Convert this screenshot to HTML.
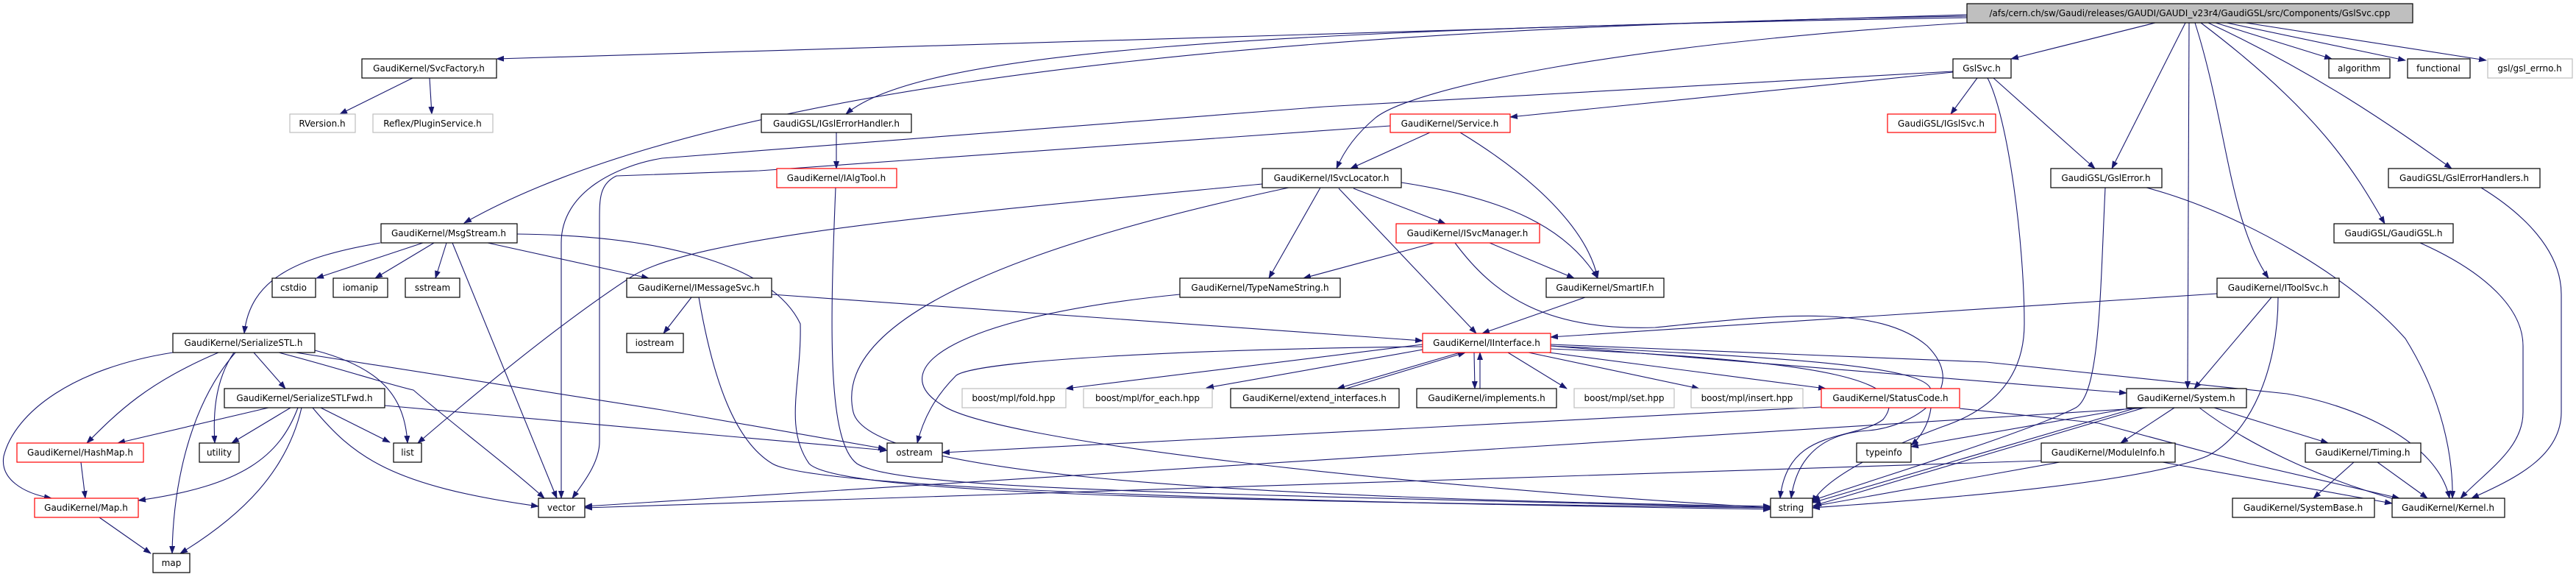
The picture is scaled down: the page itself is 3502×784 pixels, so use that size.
<!DOCTYPE html>
<html><head><meta charset="utf-8"><style>
html,body{margin:0;padding:0;background:#fff;}
svg{display:block;}
text{font-family:"DejaVu Sans","Liberation Sans",sans-serif;font-size:12px;fill:#000;}
.e{fill:none;stroke:#191970;stroke-width:1.1;}
.b{fill:#fff;stroke:#000;stroke-width:1.2;}
.r{fill:#fff;stroke:#ff0000;stroke-width:1.2;}
.g{fill:#fff;stroke:#bfbfbf;stroke-width:1.2;}
</style></head><body>
<svg width="3502" height="784" viewBox="0 0 3502 784" xmlns="http://www.w3.org/2000/svg">
<defs><marker id="a" markerWidth="11" markerHeight="8" refX="10" refY="4" orient="auto" markerUnits="userSpaceOnUse"><path d="M0,0 L11,4 L0,8 z" fill="#191970"/></marker></defs>
<g class="e" marker-end="url(#a)">
<!-- root edges -->
<path d="M2674,20 L675,80"/>
<path d="M2674,22 C1500,40 900,150 631,303"/>
<path d="M2674,24 C1700,40 1250,70 1150,155"/>
<path d="M2674,31 C2200,60 1920,120 1870,160 C1840,185 1825,210 1817,229"/>
<path d="M2930,31 L2734,80"/>
<path d="M2971,31 L2871,229"/>
<path d="M2976,31 L2974,528"/>
<path d="M2984,31 C3027,165 3030,300 3084,378"/>
<path d="M2992,31 C3150,150 3200,230 3242,304"/>
<path d="M3002,31 C3150,100 3250,170 3333,229"/>
<path d="M3012,31 L3170,80"/>
<path d="M3027,31 L3270,82"/>
<path d="M3053,31 L3380,82"/>
<!-- SvcFactory -->
<path d="M561,106 L462,155"/>
<path d="M584,106 L587,155"/>
<!-- GslSvc -->
<path d="M2655,98 L2053,159"/>
<path d="M2688,106 L2652,155"/>
<path d="M2710,106 L2848,229"/>
<path d="M2655,97 L1800,145 L900,215 C840,225 763,260 763,330 L763,677"/>
<path d="M2702,106 C2730,160 2752,330 2752,440 C2752,520 2700,560 2640,580 C2560,610 2480,650 2464,683"/>
<!-- Service -->
<path d="M1944,180 L1836,229"/>
<path d="M1985,180 C2100,250 2160,320 2172,378"/>
<path d="M1890,171 L1032,232 L838,239 C815,250 815,270 815,300 L815,600 C815,630 790,660 778,677"/>
<!-- IGslErrorHandler / IAlgTool -->
<path d="M1137,180 L1137,229"/>
<path d="M1136,255 C1128,450 1125,600 1165,630 C1220,665 1600,670 2407,690"/>
<!-- ISvcLocator -->
<path d="M1716,250 C1300,290 950,320 860,375 C760,440 640,540 568,602"/>
<path d="M1752,255 C1400,330 1130,430 1160,560 C1180,640 1600,675 2407,688"/>
<path d="M1795,255 L1725,378"/>
<path d="M1820,256 L2007,453"/>
<path d="M1840,256 L1965,304"/>
<path d="M1905,248 C2050,270 2130,310 2172,378"/>
<!-- ISvcManager -->
<path d="M1950,330 L1772,378"/>
<path d="M2025,330 L2140,378"/>
<path d="M1978,330 C2030,400 2100,450 2250,445 C2400,430 2550,410 2620,470 C2680,530 2600,580 2540,585 C2460,590 2440,640 2435,677"/>
<!-- TypeNameString / SmartIF -->
<path d="M1604,400 C1300,430 1200,500 1280,550 C1350,600 1900,660 2407,690"/>
<path d="M2155,404 L2015,453"/>
<!-- MsgStream -->
<path d="M575,330 L430,378"/>
<path d="M590,330 L510,378"/>
<path d="M607,330 L592,378"/>
<path d="M615,330 L757,677"/>
<path d="M517,330 C400,350 340,380 332,453"/>
<path d="M663,330 L882,378"/>
<path d="M703,318 C900,320 1050,360 1088,440 C1090,520 1065,580 1100,630 C1140,670 1600,680 2407,690"/>
<!-- IMessageSvc -->
<path d="M940,404 L902,453"/>
<path d="M950,404 C970,520 1000,600 1050,630 C1100,660 1600,680 2407,692"/>
<path d="M1049,400 L1934,463"/>
<!-- SerializeSTL -->
<path d="M235,479 C100,500 20,560 5,620 C0,650 30,670 70,677"/>
<path d="M297,479 C200,520 160,560 118,602"/>
<path d="M320,479 C250,560 235,680 234,752"/>
<path d="M318,479 C290,520 290,570 292,602"/>
<path d="M345,479 L388,528"/>
<path d="M428,476 C520,500 550,540 554,602"/>
<path d="M379,479 C460,500 520,520 562,530 C620,580 700,640 740,677"/>
<path d="M402,479 L900,557 L1204,610"/>
<!-- SerializeSTLFwd -->
<path d="M365,554 L160,602"/>
<path d="M395,554 L315,602"/>
<path d="M405,554 C380,620 330,660 188,680"/>
<path d="M410,554 C390,640 330,700 245,752"/>
<path d="M436,554 L530,601"/>
<path d="M425,554 C480,620 530,660 732,688"/>
<path d="M523,551 L1206,612"/>
<path d="M110,628 L116,677"/>
<path d="M135,703 L205,752"/>
<!-- IInterface -->
<path d="M1934,468 L1449,528"/>
<path d="M1940,474 L1640,527"/>
<path d="M1985,479 L1818,528"/>
<path d="M1830,528 L1992,479"/>
<path d="M2004,479 L2005,528"/>
<path d="M2012,528 L2012,479"/>
<path d="M2050,479 L2130,528"/>
<path d="M2078,479 L2310,528"/>
<path d="M2090,477 L2482,528"/>
<path d="M1934,471 C1600,475 1330,490 1300,510 C1270,540 1255,570 1247,602"/>
<path d="M2108,470 L2891,534"/>
<path d="M2108,468 L2700,492 L3109,535 C3200,550 3314,600 3330,677"/>
<path d="M2108,470 C2400,485 2620,495 2625,530 C2630,570 2610,595 2598,605"/>
<path d="M2108,474 C2500,490 2600,520 2560,570 C2520,600 2430,580 2420,677"/>
<!-- StatusCode -->
<path d="M2476,553 L1281,615"/>
<path d="M2664,555 L2853,575 L3058,630 L3262,677"/>
<!-- System -->
<path d="M2900,554 L2598,607"/>
<path d="M2905,554 L2464,683"/>
<path d="M2915,554 L2466,687"/>
<path d="M2920,554 L795,688"/>
<path d="M2956,554 L2883,602"/>
<path d="M3010,554 L3165,602"/>
<path d="M2990,554 C3050,600 3150,650 3262,680"/>
<!-- ModuleInfo -->
<path d="M2775,626 L795,690"/>
<path d="M2800,628 L2464,688"/>
<path d="M2940,628 L3252,684"/>
<!-- Timing -->
<path d="M3200,628 L3145,677"/>
<path d="M3232,628 L3300,677"/>
<!-- IToolSvc -->
<path d="M3014,399 L2108,458"/>
<path d="M3088,404 L2983,528"/>
<path d="M3097,404 C3097,500 3060,590 3000,620 C2900,660 2600,680 2464,690"/>
<!-- GslError -->
<path d="M2862,255 C2855,400 2855,540 2820,555 C2750,590 2550,650 2464,680"/>
<path d="M2918,255 C3050,290 3200,380 3270,460 C3320,540 3335,620 3334,677"/>
<path d="M3290,330 C3380,370 3430,420 3430,470 L3430,560 C3430,610 3380,640 3345,677"/>
<path d="M3373,255 C3430,290 3482,340 3482,400 L3482,560 C3482,620 3420,650 3360,677"/>
</g>
<g>
<rect x="2674" y="5" width="606" height="26" fill="#bfbfbf" stroke="#000" stroke-width="1.2"/><text x="2977" y="22" text-anchor="middle">/afs/cern.ch/sw/Gaudi/releases/GAUDI/GAUDI_v23r4/GaudiGSL/src/Components/GslSvc.cpp</text>
<rect class="b" x="492" y="80" width="183" height="26"/><text x="583" y="97" text-anchor="middle">GaudiKernel/SvcFactory.h</text>
<rect class="g" x="394" y="155" width="89" height="25"/><text x="438" y="172" text-anchor="middle">RVersion.h</text>
<rect class="g" x="507" y="155" width="163" height="25"/><text x="588" y="172" text-anchor="middle">Reflex/PluginService.h</text>
<rect class="b" x="518" y="304" width="185" height="26"/><text x="610" y="321" text-anchor="middle">GaudiKernel/MsgStream.h</text>
<rect class="b" x="370" y="378" width="59" height="26"/><text x="399" y="395" text-anchor="middle">cstdio</text>
<rect class="b" x="453" y="378" width="74" height="26"/><text x="490" y="395" text-anchor="middle">iomanip</text>
<rect class="b" x="551" y="378" width="74" height="26"/><text x="588" y="395" text-anchor="middle">sstream</text>
<rect class="b" x="852" y="378" width="197" height="26"/><text x="950" y="395" text-anchor="middle">GaudiKernel/IMessageSvc.h</text>
<rect class="b" x="852" y="453" width="77" height="26"/><text x="890" y="470" text-anchor="middle">iostream</text>
<rect class="b" x="235" y="453" width="193" height="26"/><text x="331" y="470" text-anchor="middle">GaudiKernel/SerializeSTL.h</text>
<rect class="b" x="305" y="528" width="218" height="26"/><text x="414" y="545" text-anchor="middle">GaudiKernel/SerializeSTLFwd.h</text>
<rect class="r" x="23" y="602" width="172" height="26"/><text x="109" y="619" text-anchor="middle">GaudiKernel/HashMap.h</text>
<rect class="b" x="271" y="602" width="54" height="26"/><text x="298" y="619" text-anchor="middle">utility</text>
<rect class="b" x="535" y="602" width="38" height="26"/><text x="554" y="619" text-anchor="middle">list</text>
<rect class="r" x="47" y="677" width="141" height="26"/><text x="117" y="694" text-anchor="middle">GaudiKernel/Map.h</text>
<rect class="b" x="732" y="677" width="63" height="26"/><text x="763" y="694" text-anchor="middle">vector</text>
<rect class="b" x="208" y="752" width="50" height="26"/><text x="233" y="769" text-anchor="middle">map</text>
<rect class="b" x="1035" y="155" width="204" height="25"/><text x="1137" y="172" text-anchor="middle">GaudiGSL/IGslErrorHandler.h</text>
<rect class="r" x="1056" y="229" width="163" height="26"/><text x="1137" y="246" text-anchor="middle">GaudiKernel/IAlgTool.h</text>
<rect class="b" x="1716" y="229" width="189" height="26"/><text x="1810" y="246" text-anchor="middle">GaudiKernel/ISvcLocator.h</text>
<rect class="b" x="1604" y="378" width="218" height="26"/><text x="1713" y="395" text-anchor="middle">GaudiKernel/TypeNameString.h</text>
<rect class="b" x="1206" y="602" width="75" height="26"/><text x="1243" y="619" text-anchor="middle">ostream</text>
<rect class="g" x="1308" y="528" width="141" height="26"/><text x="1378" y="545" text-anchor="middle">boost/mpl/fold.hpp</text>
<rect class="g" x="1473" y="528" width="175" height="26"/><text x="1560" y="545" text-anchor="middle">boost/mpl/for_each.hpp</text>
<rect class="b" x="1673" y="528" width="229" height="26"/><text x="1787" y="545" text-anchor="middle">GaudiKernel/extend_interfaces.h</text>
<rect class="b" x="2655" y="80" width="79" height="26"/><text x="2694" y="97" text-anchor="middle">GslSvc.h</text>
<rect class="r" x="1890" y="155" width="163" height="25"/><text x="1971" y="172" text-anchor="middle">GaudiKernel/Service.h</text>
<rect class="r" x="2566" y="155" width="147" height="25"/><text x="2639" y="172" text-anchor="middle">GaudiGSL/IGslSvc.h</text>
<rect class="r" x="1898" y="304" width="195" height="26"/><text x="1995" y="321" text-anchor="middle">GaudiKernel/ISvcManager.h</text>
<rect class="b" x="2102" y="378" width="160" height="26"/><text x="2182" y="395" text-anchor="middle">GaudiKernel/SmartIF.h</text>
<rect class="r" x="1934" y="453" width="174" height="26"/><text x="2021" y="470" text-anchor="middle">GaudiKernel/IInterface.h</text>
<rect class="b" x="1926" y="528" width="190" height="26"/><text x="2021" y="545" text-anchor="middle">GaudiKernel/implements.h</text>
<rect class="g" x="2140" y="528" width="136" height="26"/><text x="2208" y="545" text-anchor="middle">boost/mpl/set.hpp</text>
<rect class="g" x="2299" y="528" width="152" height="26"/><text x="2375" y="545" text-anchor="middle">boost/mpl/insert.hpp</text>
<rect class="r" x="2476" y="528" width="188" height="26"/><text x="2570" y="545" text-anchor="middle">GaudiKernel/StatusCode.h</text>
<rect class="b" x="2524" y="602" width="74" height="26"/><text x="2561" y="619" text-anchor="middle">typeinfo</text>
<rect class="b" x="2407" y="677" width="57" height="26"/><text x="2435" y="694" text-anchor="middle">string</text>
<rect class="b" x="3166" y="80" width="83" height="26"/><text x="3207" y="97" text-anchor="middle">algorithm</text>
<rect class="b" x="3273" y="80" width="85" height="26"/><text x="3315" y="97" text-anchor="middle">functional</text>
<rect class="g" x="3382" y="80" width="115" height="26"/><text x="3439" y="97" text-anchor="middle">gsl/gsl_errno.h</text>
<rect class="b" x="2788" y="229" width="151" height="26"/><text x="2863" y="246" text-anchor="middle">GaudiGSL/GslError.h</text>
<rect class="b" x="3247" y="229" width="206" height="26"/><text x="3350" y="246" text-anchor="middle">GaudiGSL/GslErrorHandlers.h</text>
<rect class="b" x="3173" y="304" width="162" height="26"/><text x="3254" y="321" text-anchor="middle">GaudiGSL/GaudiGSL.h</text>
<rect class="b" x="3014" y="378" width="166" height="26"/><text x="3097" y="395" text-anchor="middle">GaudiKernel/IToolSvc.h</text>
<rect class="b" x="2891" y="528" width="163" height="26"/><text x="2972" y="545" text-anchor="middle">GaudiKernel/System.h</text>
<rect class="b" x="2775" y="602" width="182" height="26"/><text x="2866" y="619" text-anchor="middle">GaudiKernel/ModuleInfo.h</text>
<rect class="b" x="3134" y="602" width="157" height="26"/><text x="3212" y="619" text-anchor="middle">GaudiKernel/Timing.h</text>
<rect class="b" x="3035" y="677" width="193" height="26"/><text x="3131" y="694" text-anchor="middle">GaudiKernel/SystemBase.h</text>
<rect class="b" x="3252" y="677" width="153" height="26"/><text x="3328" y="694" text-anchor="middle">GaudiKernel/Kernel.h</text>
</g>
</svg>
</body></html>
